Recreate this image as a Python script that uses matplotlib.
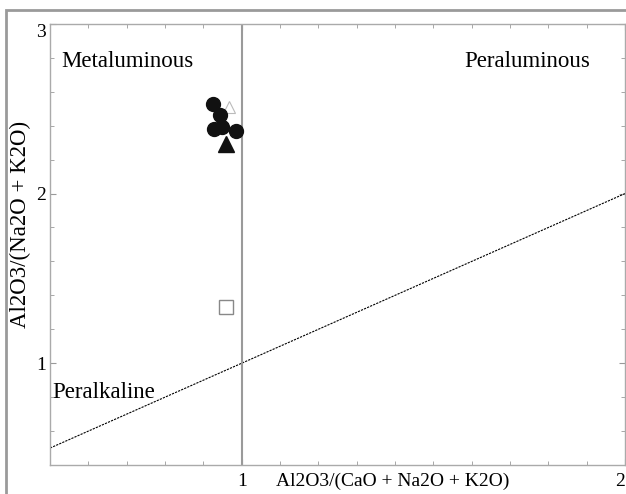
import matplotlib
matplotlib.use("Agg")
import matplotlib.pyplot as plt
from matplotlib.patches import Rectangle
from matplotlib.ticker import MultipleLocator, FixedLocator

plt.rcParams['font.family'] = ['Liberation Serif', 'DejaVu Serif']

# sample points: A/CNK (x) vs A/NK (y)
circ_x = [0.924, 0.943, 0.927, 0.948, 0.984]
circ_y = [2.53, 2.46, 2.38, 2.39, 2.37]
tri_x = [0.958]
tri_y = [2.29]
otri_x = [0.966]
otri_y = [2.51]
sq_x = [0.958]
sq_y = [1.33]

# boundary line A/NK = A/CNK
line_x = [0.5, 2.0]
line_y = [0.5, 2.0]

fig = plt.figure(figsize=(6.26, 4.94), dpi=100)
ax = fig.add_axes([0.080, 0.0587, 0.9185, 0.893])

# outer frame
fig.patches.append(Rectangle((0.0096, -0.05), 1.2, 1.03, transform=fig.transFigure,
                             fill=False, edgecolor='#9a9a9a', linewidth=2))

ax.plot(line_x, line_y, color='black', linestyle=(0, (2, 1)), linewidth=0.8)
ax.axvline(1.0, color='#9a9a9a', linewidth=1.5)

ax.plot(circ_x, circ_y, 'o', color='#111111', markersize=10, zorder=3)
ax.plot(tri_x, tri_y, '^', color='#111111', markersize=11, zorder=3)
ax.plot(otri_x, otri_y, '^', markerfacecolor='none', markeredgecolor='#bbbbbb',
        markersize=9, markeredgewidth=0.8, zorder=2)
ax.plot(sq_x, sq_y, 's', markerfacecolor='none', markeredgecolor='#888888',
        markersize=10, markeredgewidth=1, zorder=3)

ax.text(0.53, 2.78, 'Metaluminous', fontsize=16.5, va='center', ha='left')
ax.text(1.91, 2.78, 'Peraluminous', fontsize=16.5, va='center', ha='right')
ax.text(0.505, 0.83, 'Peralkaline', fontsize=16.5, va='center', ha='left')

ax.set_xlim(0.5, 2.0)
ax.set_ylim(0.4, 3.0)

ax.xaxis.set_major_locator(FixedLocator([1, 2]))
ax.yaxis.set_major_locator(FixedLocator([1, 2, 3]))
ax.xaxis.set_minor_locator(MultipleLocator(0.1))
ax.yaxis.set_minor_locator(MultipleLocator(0.2))
ax.set_xticklabels(['1', '2'])
ax.set_yticklabels(['1', '2', '3'])
ax.tick_params(which='both', direction='in', top=True, right=True, color='#999999', labelsize=14)
ax.tick_params(which='major', length=4)
ax.tick_params(axis='x', which='major', pad=6)
ax.tick_params(axis='y', which='major', pad=3)
ax.tick_params(which='minor', length=3)
ax.get_xticklabels()[-1].set_ha('right')
ax.get_yticklabels()[-1].set_va('top')

for s in ax.spines.values():
    s.set_color('#aaaaaa')
    s.set_linewidth(1)

ax.set_xlabel('Al2O3/(CaO + Na2O + K2O)', fontsize=14)
ax.xaxis.set_label_coords(0.595, -0.036)
ax.xaxis.label.set_va('center')
ax.set_ylabel('Al2O3/(Na2O + K2O)', fontsize=16.5)
ax.yaxis.set_label_coords(-0.052, 0.545)
ax.yaxis.label.set_va('center')

fig.savefig('out.png', dpi=100)
